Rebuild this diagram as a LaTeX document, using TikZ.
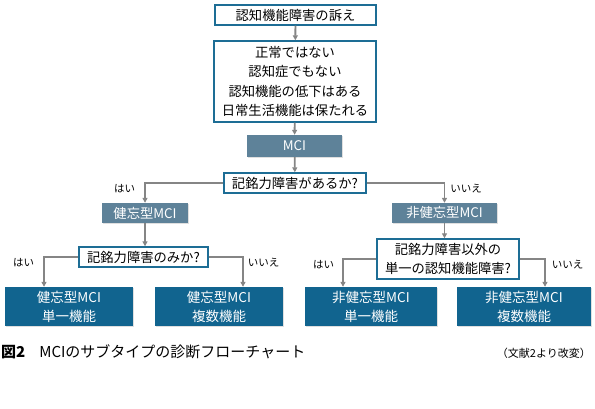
\documentclass[tikz,border=0pt]{standalone}
\usepackage{fontspec}
\setmainfont{Noto Sans CJK JP}
\usetikzlibrary{arrows.meta,shadows}

\definecolor{frameblue}{HTML}{1D6D95}
\definecolor{slateblue}{HTML}{5E8299}
\definecolor{deepblue}{HTML}{11648F}
\definecolor{linegray}{HTML}{858585}

\begin{document}
\begin{tikzpicture}[x=1pt, y=-1pt,
    every node/.style={font=\fontsize{13.3}{19.5}\selectfont, inner sep=0pt},
    askbox/.style={draw=frameblue, line width=1.4pt, fill=white, align=center,
                   drop shadow={opacity=0.25, shadow xshift=0.8pt, shadow yshift=-0.8pt}},
    typebox/.style={fill=slateblue, text=white, align=center,
                    drop shadow={opacity=0.25, shadow xshift=0.8pt, shadow yshift=-0.8pt}},
    endbox/.style={fill=deepblue, text=white, align=center,
                   minimum height=39pt, font=\fontsize{13.5}{19}\selectfont,
                   drop shadow={opacity=0.25, shadow xshift=0.8pt, shadow yshift=-0.8pt}},
    lab/.style={font=\fontsize{10.5}{12}\selectfont},
    conn/.style={draw=linegray, line width=1.8pt, -{Triangle[length=5pt, width=5pt]}}]

    \useasboundingbox (0,0) rectangle (595,408);

    \node[askbox, minimum width=161pt, minimum height=20pt] (complaint) at (295.5,15) {認知機能障害の訴え};
    \node[askbox, minimum width=162pt, minimum height=81pt] (criteria) at (295,81.5)
        {正常ではない\\認知症でもない\\認知機能の低下はある\\日常生活機能は保たれる};
    \node[typebox, minimum width=95pt, minimum height=22pt] (mci) at (294.5,146) {MCI};
    \node[askbox, minimum width=142pt, minimum height=20pt] (q1) at (295,183) {記銘力障害があるか?};

    \node[typebox, minimum width=86pt, minimum height=20pt] (amn) at (145,213) {健忘型MCI};
    \node[typebox, minimum width=105pt, minimum height=20pt] (nonamn) at (444.5,213) {非健忘型MCI};

    \node[askbox, minimum width=129pt, minimum height=20pt] (q2) at (143.5,257) {記銘力障害のみか?};
    \node[askbox, minimum width=142pt, minimum height=40pt] (q3) at (448,259)
        {記銘力障害以外の\\単一の認知機能障害?};

    \node[endbox, minimum width=128pt] (amnsingle) at (69,306.5) {健忘型MCI\\単一機能};
    \node[endbox, minimum width=128pt] (amnmulti) at (219,306.5) {健忘型MCI\\複数機能};
    \node[endbox, minimum width=132pt] (nonsingle) at (371,306.5) {非健忘型MCI\\単一機能};
    \node[endbox, minimum width=134pt] (nonmulti) at (524,306.5) {非健忘型MCI\\複数機能};

    \draw[conn] (complaint) -- (criteria);
    \draw[conn] (criteria) -- (mci);
    \draw[conn] (mci) -- (q1);

    \draw[conn] (q1.west) -| node[lab, anchor=north east, xshift=-9pt, yshift=-0.5pt] {はい} (amn.north);
    \draw[conn] (q1.east) -| node[lab, anchor=north west, xshift=5pt, yshift=-0.5pt] {いいえ} (nonamn.north);

    \draw[conn] (amn.south) -- (amn.south |- q2.north);
    \draw[conn] (nonamn.south) -- (nonamn.south |- q3.north);

    \draw[conn] (q2.west) -| node[lab, anchor=north east, xshift=-9pt, yshift=-0.5pt] {はい} ([xshift=-25pt]amnsingle.north);
    \draw[conn] (q2.east) -| node[lab, anchor=north west, xshift=4pt, yshift=-0.5pt] {いいえ} ([xshift=24pt]amnmulti.north);
    \draw[conn] (q3.west) -| node[lab, anchor=north east, xshift=-8pt, yshift=-0.5pt] {はい} ([xshift=-28pt]nonsingle.north);
    \draw[conn] (q3.east) -| node[lab, anchor=north west, xshift=6pt, yshift=-0.5pt] {いいえ} ([xshift=21pt]nonmulti.north);

    \node[anchor=west, font=\fontsize{15}{18}\selectfont] (caption) at (1,352)
        {\textbf{図2}\hspace{14pt}MCIのサブタイプの診断フローチャート};
    \node[anchor=east, font=\fontsize{11}{13}\selectfont] (source) at (591,353) {（文献2より改変）};
\end{tikzpicture}
\end{document}
